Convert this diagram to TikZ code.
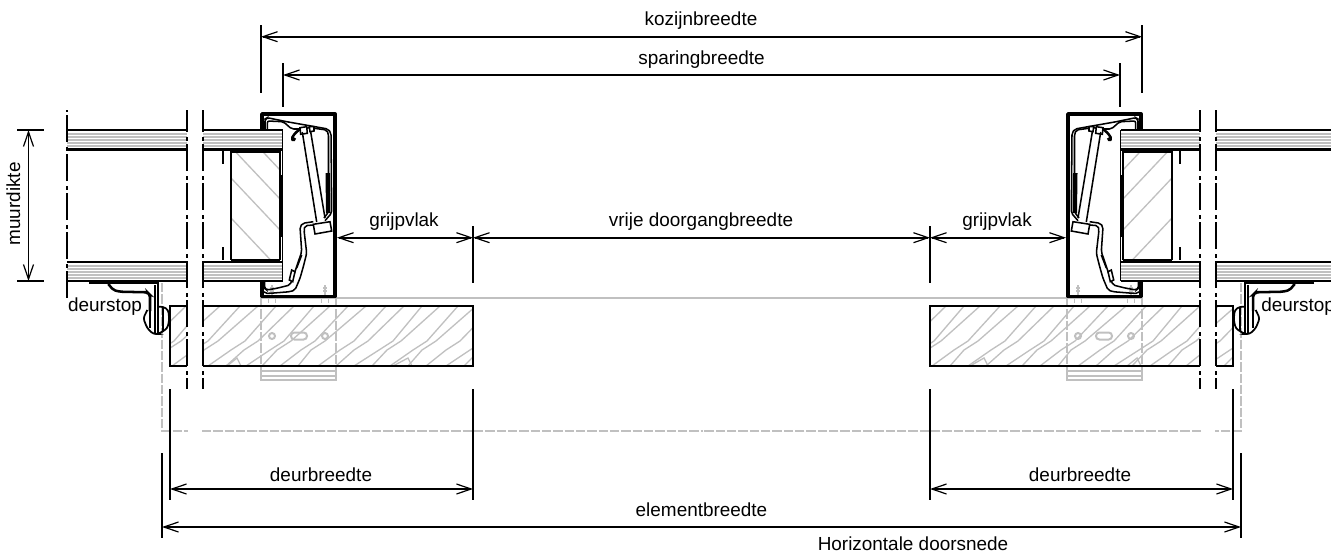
\documentclass[tikz,border=0pt]{standalone}
\usepackage{fontspec}
\setmainfont{Liberation Sans}
\usetikzlibrary{arrows.meta}
\definecolor{HatchGray}{RGB}{192,192,192}

% wood grain of a door leaf, runs the same way on both sides
\newcommand{\doorgrain}{
  \foreach \x/\k in {118/0,136/6,152/-3,172/4,190/-4,208/5,226/0,246/6,262/-3,280/3,298/-5,318/4,
    336/0,354/7,372/-3,390/5,408/-4,426/2,446/6,464/-2}
    \draw[hatch line] (\x,366) -- (\x+18+\k,350) -- (\x+32+\k,341) -- (\x+68,306);
}

% one side of the doorway, drawn in pixel units; mirrored for the other side
\newcommand{\doorhalf}{
  % gray bracket and element outline
  \draw[outline style] (162,283) -- (162,431) -- (188,431);
  \draw[outline style] (202,431) -- (701.5,431);
  \draw[gray line] (336,298.3) -- (701.5,298.3);
  \draw[outline style] (261,298) -- (261,371);
  \draw[outline style] (336,298) -- (336,371);
  \draw[gray line] (261,298.3) -- (336,298.3);
  \draw[gray line] (261,371) -- (261,380) -- (336,380) -- (336,371) -- cycle;
  \draw[gray line] (261,376) -- (336,376);
  \draw[gray line] (272,336) circle (3);
  \draw[gray line] (325,336) circle (3);
  \draw[gray line,rounded corners=2.5pt] (291,332.5) rectangle (307,339.5);
  % walls
  \foreach \y in {134,137,140,143,146,266,269,272,275,278}{
    \draw[band line] (67,\y) -- (187,\y);
    \draw[band line] (203,\y) -- (282,\y);
  }
  \foreach \y in {130,149.5,262,281}{
    \draw[wall line] (67,\y) -- (187,\y);
    \draw[wall line] (203,\y) -- (282.5,\y);
  }
  \draw[thin line] (282.5,130) -- (282.5,149);
  \draw[thin line] (282.5,262) -- (282.5,281);
  % stud
  \begin{scope}
    \clip (231,151) rectangle (280,260);
    \foreach \y in {118,147,178,218}
      \draw[hatch line] (231,\y) -- (281,\y+53);
  \end{scope}
  \draw[wall line] (231,151.5) -- (280,151.5);
  \draw[wall line] (231,260) -- (280,260);
  \draw[thin line] (231,151) -- (231,260);
  \draw[thin line] (280,151) -- (280,260);
  \draw[thin line] (282.5,149) -- (282.5,175);
  \draw[thin line] (282.5,237) -- (282.5,262);
  \draw[heavy line] (281,175) -- (281,237);
  \draw[wall line] (223,151) -- (223,164);
  \draw[wall line] (223,247) -- (223,260);
  % door
  \draw[thin line] (187,305.7) -- (170,305.7) -- (170,365.7) -- (187,365.7);
  \draw[thin line] (203,305.7) -- (473.3,305.7) -- (473.3,365.7) -- (203,365.7);
  % break lines
  \draw[break line,dash phase=25.5pt] (67,110) -- (67,300);
  \draw[break line,dash phase=3.75pt] (187,110) -- (187,389);
  \draw[break line,dash phase=3.75pt] (203,110) -- (203,389);
  % screws
  \foreach \x in {272,325}{
    \draw[hatch line] (\x,285) -- (\x,297);
    \draw[hatch line] (\x-2,288) -- (\x+2,288) (\x-2,291) -- (\x+2,291);
    \draw[hatch line] (\x-3.5,297) -- (\x-3.5,303) (\x+3.5,297) -- (\x+3.5,303);
  }
  % frame
  \draw[heavy line,line join=round] (262,130) -- (262,114) -- (335,114) -- (335,296.5) -- (262,296.5) -- (262,281);
  % upper clip
  \draw[clip line,rounded corners=1.5pt] (265,129) -- (265,119) -- (267.3,117.7) -- (286.7,121.7) -- (328,129)
    -- (331,133) -- (331.7,213) -- (325,220.7);
  \draw[clip line,rounded corners=1.5pt] (267.3,129) -- (267.3,121) -- (283.3,121.7) -- (291.7,129) -- (300,129)
    -- (310,127.7) -- (326.7,130) -- (328.5,134) -- (328.5,212) -- (324,218);
  \fill (325.5,173) -- (330,173) -- (330.5,213) -- (326,213) -- cycle;
  \draw[wall line,rounded corners=1pt] (300,129) -- (295,133.3) -- (291.7,138.3) -- (293.3,141) -- (295,138);
  \draw[clip line,fill=white] (300,127.7) -- (306.7,126.7) -- (307.3,133.3) -- (300.7,134.3) -- cycle;
  \draw[clip line,fill=white] (309.3,126.7) -- (314,126.7) -- (314,131) -- (310,131.7) -- cycle;
  % bar
  \draw[clip line] (302.3,132) -- (316.7,222);
  \draw[clip line] (310.7,132) -- (325,218);
  % lower clip
  \draw[clip line,rounded corners=1.5pt] (313.3,221.7) -- (302.7,223.3) -- (300,226.7) -- (301.7,251.7) -- (298.3,261.7)
    -- (293.3,276.7) -- (290,285) -- (276.7,288.3) -- (266.7,290) -- (264.5,288.3) -- (264.5,282);
  \draw[clip line,rounded corners=1.5pt] (313.3,225) -- (305,225.7) -- (304,230) -- (306.7,253.3) -- (303.3,266.7)
    -- (300,278.3) -- (295,290) -- (290,291.7) -- (270,293.3) -- (265,293.3) -- (262,290);
  \draw[clip line] (296.7,268) -- (301.7,255);
  \draw[clip line,fill=white] (289.3,280) -- (291.7,270) -- (295,271.7) -- (292.7,281.7) -- cycle;
  \draw[clip line,fill=white] (313.3,224.3) -- (330,221.7) -- (331.7,231) -- (315,234) -- cycle;
  % door stop
  \draw[wall line] (89,283) -- (158,283) -- (158,334);
  \draw[thin line] (155,285) -- (155,334);
  \draw[wall line,rounded corners=1.5pt] (108.3,284) -- (113.3,290) -- (120,291.7) -- (147.3,292.3) -- (150,295) -- (150,311);
  \draw[thin line] (150,311) -- (150,328);
  \draw[thin line,rounded corners=2pt] (147.3,310) -- (143.3,318.3) -- (147.3,328.3) -- (153.3,334) -- (158,334)
    -- (163.3,331) -- (167.3,328.3) -- (169.3,320) -- (168.3,310) -- (163.3,306.7) -- (158,306.7);
  \draw[thin line] (163.3,306.7) -- (163.3,331);
}

\begin{document}
\begin{tikzpicture}[x=.75pt,y=-.75pt,>={Straight Barb[length=11pt,width=7.5pt,line width=.9pt]},
  dim line/.style={<->,line width=1.4pt},
  ext line/.style={line width=1.4pt},
  wall line/.style={line width=1.9pt},
  thin line/.style={line width=1.3pt},
  heavy line/.style={line width=2.9pt},
  clip line/.style={line width=1.15pt},
  hatch line/.style={HatchGray,line width=1pt},
  band line/.style={HatchGray,line width=1.3pt},
  gray line/.style={HatchGray,line width=1.5pt},
  outline style/.style={HatchGray,line width=1.3pt,dash pattern=on 7pt off 1.5pt},
  break line/.style={line width=1.7pt,dash pattern=on 20.25pt off 3.75pt on 3pt off 2.25pt},
  label style/.style={font=\fontsize{14.2}{16}\selectfont,inner sep=0pt,anchor=base}
]
\path[use as bounding box] (0,0) rectangle (1331,554);
\clip (0,0) rectangle (1331,554);

% door hatching
\begin{scope}
  \clip (170,306) rectangle (187,366) (203,306) rectangle (473,366);
  \doorgrain
  \draw[hatch line] (227,366) -- (237,358) -- (241,366);
  \draw[hatch line] (393,366) -- (408,358) -- (412,366);
\end{scope}
\begin{scope}
  \clip (930,306) rectangle (1200,366) (1216,306) rectangle (1233,366);
  \begin{scope}[shift={(760,0)}]
    \doorgrain
  \end{scope}
  \draw[hatch line] (970,366) -- (984,358) -- (988,366);
  \draw[hatch line] (1127,366) -- (1137,358) -- (1141,366);
\end{scope}

\begin{scope}
  \doorhalf
\end{scope}
\begin{scope}[shift={(1403,0)},xscale=-1]
  \doorhalf
\end{scope}

\foreach \n/\x/\ya/\yb in {kozLe/261/25/93,kozRe/1142/25/93,spaLe/283/63/107,spaRe/1120/63/107,
  gripLe/473/226/283,gripRe/930/226/283,deurAe/170/389/500,deurBe/473/389/500,
  deurCe/930/389/500,deurDe/1233/389/500,elemLe/162/453/538,elemRe/1241/453/538}{
  \coordinate (\n t) at (\x,\ya);
  \coordinate (\n b) at (\x,\yb);
  \draw[ext line] (\n t) -- (\n b);
}
\coordinate (mdTa) at (17,130);
\coordinate (mdTb) at (44,130);
\coordinate (mdBa) at (17,281);
\coordinate (mdBb) at (44,281);
\draw[ext line] (mdTa) -- (mdTb);
\draw[ext line] (mdBa) -- (mdBb);

\coordinate (kozL) at (261,36.7);
\coordinate (kozR) at (1142,36.7);
\coordinate (spaL) at (283,75);
\coordinate (spaR) at (1120,75);
\coordinate (mdT) at (28.5,130);
\coordinate (mdB) at (28.5,281);
\coordinate (gripA) at (337,237.7);
\coordinate (gripB) at (473,237.7);
\coordinate (gripC) at (930,237.7);
\coordinate (gripD) at (1066,237.7);
\coordinate (deurA) at (170,489);
\coordinate (deurB) at (473,489);
\coordinate (deurC) at (930,489);
\coordinate (deurD) at (1233,489);
\coordinate (elemL) at (162,527);
\coordinate (elemR) at (1241,527);

\draw[dim line] (kozL) -- (kozR);
\draw[dim line] (spaL) -- (spaR);
\draw[dim line] (mdT) -- (mdB);
\draw[dim line] (gripA) -- (gripB);
\draw[dim line] (gripB) -- (gripC);
\draw[dim line] (gripC) -- (gripD);
\draw[dim line] (deurA) -- (deurB);
\draw[dim line] (deurC) -- (deurD);
\draw[dim line] (elemL) -- (elemR);

\node[label style] (kozText) at (701,25.7) {kozijnbreedte};
\node[label style] (spaText) at (701.5,64.3) {sparingbreedte};
\node[label style,rotate=90] (mdText) at (20,204) {muurdikte};
\node[label style] (gripLText) at (404,226) {grijpvlak};
\node[label style] (vrijText) at (701,226) {vrije doorgangbreedte};
\node[label style] (gripRText) at (997,226) {grijpvlak};
\node[label style] (stopLText) at (105,311) {deurstop};
\node[label style,anchor=base west] (stopRText) at (1261,311) {deurstop};
\node[label style] (deurLText) at (321,481) {deurbreedte};
\node[label style] (deurRText) at (1080,481) {deurbreedte};
\node[label style] (elemText) at (701.5,516) {elementbreedte};
\node[label style] (cutText) at (913,550) {Horizontale doorsnede};
\end{tikzpicture}
\end{document}
